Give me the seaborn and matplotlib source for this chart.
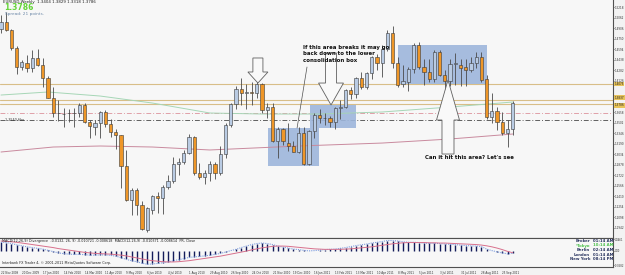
import matplotlib
matplotlib.use("Agg")
import matplotlib.pyplot as plt
import matplotlib.transforms as mtransforms
from matplotlib.patches import Rectangle, Polygon
import numpy as np
import pandas as pd
import seaborn as sns

sns.set_theme(style="white")
plt.rcParams['font.family'] = ['DejaVu Sans']

# ---------------- data (EURUSD weekly, 22 Nov 2009 .. 9 Oct 2011) ----------------
opens = [1.4890, 1.4990, 1.4877, 1.4609, 1.4327, 1.4386, 1.4312, 1.4461, 1.4357, 1.4164,
         1.3867, 1.3644, 1.3636, 1.3640, 1.3646, 1.3644, 1.3763, 1.3510, 1.3436, 1.3496,
         1.3659, 1.3481, 1.3362, 1.3317, 1.2857, 1.2352, 1.2500, 1.2278, 1.1907, 1.2203,
         1.2411, 1.2382, 1.2545, 1.2634, 1.2887, 1.2916, 1.3050, 1.3288, 1.2753, 1.2694,
         1.2753, 1.2887, 1.2753, 1.3035, 1.3466, 1.3778, 1.4000, 1.3941, 1.3956, 1.3945,
         1.4075, 1.3689, 1.3733, 1.3228, 1.3406, 1.3198, 1.3154, 1.3065, 1.3347, 1.2887,
         1.3377, 1.3614, 1.3570, 1.3575, 1.3510, 1.3718, 1.3733, 1.3986, 1.3926, 1.4164,
         1.4030, 1.4238, 1.4476, 1.4386, 1.4594, 1.4832, 1.4386, 1.4075, 1.4104, 1.4297,
         1.4654, 1.4327, 1.4253, 1.4149, 1.4550, 1.4208, 1.4119, 1.4372, 1.4357, 1.4327,
         1.4283, 1.4386, 1.4476, 1.4149, 1.3585, 1.3674, 1.3510, 1.3347, 1.3404]
highs = [1.5100, 1.5144, 1.4895, 1.4640, 1.4431, 1.4510, 1.4580, 1.4594, 1.4460, 1.4200,
         1.4030, 1.3837, 1.3718, 1.3700, 1.3718, 1.3793, 1.3793, 1.3540, 1.3540, 1.3674,
         1.3690, 1.3560, 1.3400, 1.3320, 1.3095, 1.2530, 1.2530, 1.2340, 1.2250, 1.2430,
         1.2471, 1.2570, 1.2720, 1.2991, 1.2976, 1.3100, 1.3330, 1.3300, 1.2902, 1.2800,
         1.2930, 1.2920, 1.3160, 1.3500, 1.3800, 1.4045, 1.4160, 1.4080, 1.4100, 1.4250,
         1.4090, 1.3790, 1.3790, 1.3436, 1.3420, 1.3496, 1.3230, 1.3430, 1.3440, 1.3390,
         1.3650, 1.3700, 1.3640, 1.3600, 1.3733, 1.3840, 1.4000, 1.4030, 1.4180, 1.4250,
         1.4250, 1.4490, 1.4520, 1.4650, 1.4880, 1.4940, 1.4470, 1.4350, 1.4320, 1.4680,
         1.4700, 1.4450, 1.4450, 1.4580, 1.4580, 1.4280, 1.4440, 1.4535, 1.4450, 1.4450,
         1.4480, 1.4550, 1.4550, 1.4210, 1.3941, 1.3733, 1.3660, 1.3540, 1.3829]
lows = [1.4830, 1.4860, 1.4580, 1.4220, 1.4283, 1.4260, 1.4260, 1.4340, 1.4030, 1.3860,
        1.3580, 1.3525, 1.3436, 1.3510, 1.3430, 1.3580, 1.3496, 1.3273, 1.3320, 1.3273,
        1.3440, 1.3290, 1.3110, 1.2530, 1.2340, 1.2129, 1.2129, 1.1910, 1.1877, 1.2150,
        1.2159, 1.2150, 1.2510, 1.2600, 1.2720, 1.2880, 1.3040, 1.2730, 1.2670, 1.2590,
        1.2640, 1.2660, 1.2730, 1.2970, 1.3430, 1.3700, 1.3763, 1.3700, 1.3760, 1.3860,
        1.3644, 1.3570, 1.3220, 1.2976, 1.3170, 1.3080, 1.3060, 1.3050, 1.2870, 1.2870,
        1.3280, 1.3500, 1.3460, 1.3430, 1.3400, 1.3560, 1.3720, 1.3850, 1.3860, 1.4000,
        1.4000, 1.4150, 1.4290, 1.4179, 1.4560, 1.4310, 1.4030, 1.4030, 1.3971, 1.4240,
        1.4300, 1.4060, 1.4100, 1.4110, 1.4200, 1.3840, 1.4040, 1.4060, 1.4050, 1.4050,
        1.4260, 1.4310, 1.4110, 1.3560, 1.3496, 1.3391, 1.3320, 1.3139, 1.3318]
closes = [1.4990, 1.4877, 1.4609, 1.4327, 1.4401, 1.4312, 1.4461, 1.4357, 1.4164, 1.3867,
          1.3644, 1.3638, 1.3629, 1.3646, 1.3640, 1.3763, 1.3510, 1.3451, 1.3496, 1.3659,
          1.3481, 1.3362, 1.3317, 1.2857, 1.2352, 1.2500, 1.2278, 1.1921, 1.2233, 1.2411,
          1.2382, 1.2545, 1.2634, 1.2887, 1.2916, 1.3050, 1.3288, 1.2753, 1.2694, 1.2753,
          1.2887, 1.2753, 1.3035, 1.3466, 1.3778, 1.4000, 1.3941, 1.3956, 1.3945, 1.4075,
          1.3689, 1.3733, 1.3228, 1.3406, 1.3228, 1.3154, 1.3065, 1.3347, 1.2887, 1.3377,
          1.3614, 1.3570, 1.3575, 1.3510, 1.3718, 1.3733, 1.3986, 1.3926, 1.4164, 1.4030,
          1.4238, 1.4476, 1.4386, 1.4594, 1.4832, 1.4386, 1.4060, 1.4119, 1.4297, 1.4654,
          1.4327, 1.4253, 1.4149, 1.4550, 1.4208, 1.4119, 1.4372, 1.4380, 1.4312, 1.4283,
          1.4386, 1.4476, 1.4134, 1.3585, 1.3674, 1.3510, 1.3347, 1.3406, 1.3786]

# moving averages read at a few bars
ma_green_bars = [0, 9, 19, 29, 40, 50, 61, 73, 86, 98]
ma_green_vals = [1.3911, 1.3956, 1.3896, 1.3792, 1.3644, 1.3629, 1.3629, 1.3659, 1.3733, 1.3807]
ma_red_bars = [0, 10, 19, 29, 40, 57, 73, 86, 98]
ma_red_vals = [1.3065, 1.3139, 1.3154, 1.3139, 1.3095, 1.3154, 1.3198, 1.3258, 1.3332]

# MACD (x 0.001)
macd_main = [33, 32, 28, 23, 19, 15, 12, 9, 6,
             1, -4, -9, -12, -14, -15, -15, -16,
             -18, -18, -17, -17, -19, -22, -28, -35,
             -40, -44, -50, -54, -53, -51, -48, -45,
             -40, -36, -32, -27, -25, -23, -21, -18,
             -15, -11, -6, 0, 5, 12, 18, 24,
             28, 30, 28, 24, 18, 14, 10, 6,
             4, 1, -1, 0, 2, 4, 5, 6,
             9, 12, 16, 20, 23, 26, 30, 33,
             36, 40, 40, 38, 35, 33, 33, 32,
             30, 29, 29, 28, 26, 25, 24, 22,
             20, 19, 18, 16, 6, 0, -5, -9,
             -13, -10.7]
macd_signal = [38, 37, 35, 33, 30, 27, 24, 21, 18,
               15, 12, 8, 5, 2, -1, -4, -7,
               -9, -11, -12, -13, -14, -16, -18, -21,
               -25, -29, -33, -37, -40, -42, -44, -45,
               -45, -44, -42, -40, -37, -34, -31, -28,
               -25, -22, -18, -14, -10, -6, -2, 3,
               7, 11, 14, 17, 18, 18, 17, 15,
               13, 11, 9, 7, 6, 5, 5, 5,
               5, 6, 7, 9, 11, 13, 15, 18,
               21, 24, 27, 29, 31, 32, 32, 32,
               32, 31, 31, 30, 30, 29, 28, 27,
               26, 25, 24, 22, 19, 15, 10, 4,
               -3, -8.6]

date_labels = ["22 Nov 2009", "20 Dec 2009", "17 Jan 2010", "14 Feb 2010", "14 Mar 2010",
               "11 Apr 2010", "9 May 2010", "6 Jun 2010", "4 Jul 2010", "1 Aug 2010",
               "29 Aug 2010", "26 Sep 2010", "24 Oct 2010", "21 Nov 2010", "19 Dec 2010",
               "16 Jan 2011", "13 Feb 2011", "13 Mar 2011", "10 Apr 2011", "8 May 2011",
               "5 Jun 2011", "3 Jul 2011", "31 Jul 2011", "28 Aug 2011", "25 Sep 2011"]
price_ticks = [1.5218, 1.5062, 1.4906, 1.4750, 1.4594, 1.4438, 1.4282, 1.4126,
               1.3658, 1.3502, 1.3346, 1.3190, 1.3034, 1.2878, 1.2722, 1.2566,
               1.2410, 1.2254, 1.2098, 1.1942]
price_tick_labels = ["%.4f" % v for v in price_ticks]
macd_ticks = [0.046, 0.0, -0.058]
macd_tick_labels = ["0.0461", "0.00", "-0.0582"]

levels_tan = [1.4075, 1.3837, 1.3778]
level_pink = 1.3644
level_grey = 1.3540

# ---------------- figure ----------------
W, H = 625, 275
fig = plt.figure(figsize=(W / 100, H / 100), dpi=100, facecolor="#F3F3F3")
ax = fig.add_axes([0, 1 - 238 / H, 613 / W, 238 / H])
axm = fig.add_axes([0, 1 - 267 / H, 613 / W, 29 / H])
for a in (ax, axm):
    a.set_facecolor("#F7F7F7")
    for s in ("left", "top"):
        a.spines[s].set_visible(False)
    for s in ("right", "bottom"):
        a.spines[s].set_color("#505050")
        a.spines[s].set_linewidth(0.8)
axm.spines["top"].set_visible(True)
axm.spines["top"].set_color("#505050")
axm.spines["top"].set_linewidth(0.8)

df = pd.DataFrame({"bar": np.arange(len(opens)), "open": opens, "high": highs,
                   "low": lows, "close": closes})
df["up"] = df["close"] >= df["open"]

# horizontal levels
for lv in levels_tan:
    ax.axhline(lv, color="#D8BE88", lw=0.8, zorder=1)
ax.axhline(level_pink, color="#E0A0A8", lw=0.7, ls=(0, (5, 2, 1, 2)), zorder=1)
ax.axhline(level_grey, color="#606060", lw=0.7, ls=(0, (5, 2, 1, 2)), zorder=1)
ax.text(0.8, level_grey, "1.3540 fibo", fontsize=2.4, color="#303030", va="center", zorder=6)

# consolidation boxes
box_color = "#9DB6DC"
for (x0, x1, y0, y1) in [(51.15, 60.9, 1.2857, 1.3421),
                         (59.2, 68.0, 1.3421, 1.3763),
                         (76.05, 93.1, 1.4075, 1.4654)]:
    ax.add_patch(Rectangle((x0, y0), x1 - x0, y1 - y0, facecolor=box_color,
                           edgecolor="none", alpha=0.9, zorder=1.5))

# moving averages
sns.lineplot(x=ma_green_bars, y=ma_green_vals, ax=ax, color="#A6D6B6", lw=0.7, zorder=2)
sns.lineplot(x=ma_red_bars, y=ma_red_vals, ax=ax, color="#C98A9E", lw=0.7, zorder=2)

# candles
ax.vlines(df["bar"], df["low"], df["high"], color="#4A4A4A", lw=0.6, zorder=3)
body_bottom = np.minimum(df["open"], df["close"])
body_h = np.maximum((df["close"] - df["open"]).abs(), 0.0004)
colors = np.where(df["up"], "#B9CBE3", "#EE9628")
ax.bar(df["bar"], body_h, bottom=body_bottom, width=0.62, color=colors,
       edgecolor="#3A3A3A", linewidth=0.4, zorder=4)


def arrow(cx, tip, base, end, hh, hs):
    pts = [(cx - hs, end), (cx + hs, end), (cx + hs, base), (cx + hh, base),
           (cx, tip), (cx - hh, base), (cx - hs, base)]
    ax.add_patch(Polygon(pts, closed=True, facecolor="#F9F9F9", edgecolor="#606060",
                         lw=0.6, zorder=5))


arrow(49.2, 1.4089, 1.4253, 1.4461, 1.92, 0.96)
arrow(63.2, 1.3763, 1.4089, 1.4535, 2.39, 1.05)
arrow(85.6, 1.4134, 1.3540, 1.3035, 2.2, 1.15)

ax.text(57.9, 1.4660, "If this area breaks it may go\nback down to the lower\nconsolidation box",
        fontsize=3.9, fontweight="bold", color="#111111", va="top", ha="left",
        linespacing=1.45, zorder=7)
ax.plot([58.6, 56.7], [1.4327, 1.3421], color="#505050", lw=0.5, zorder=6)
ax.text(81.2, 1.2976, "Can it hit this area? Let's see", fontsize=3.9, fontweight="bold",
        color="#111111", va="center", ha="left", zorder=7)

# right price axis
ax.yaxis.tick_right()
ax.set_yticks(price_ticks)
ax.set_yticklabels(price_tick_labels)
ax.tick_params(axis="y", labelsize=2.0, length=1.0, width=0.5, pad=0.3, colors="#303030")
ax.set_xticks([])
ax.set_xlabel("")
ax.set_ylabel("")
bl = mtransforms.blended_transform_factory(ax.transAxes, ax.transData)
for val, txt in [(1.4075, "1.4075"), (1.3873, "1.3837"), (1.3760, "1.3786")]:
    ax.text(1.0025, val, txt, transform=bl, fontsize=2.0, va="center", ha="left",
            color="#202020", clip_on=False,
            bbox=dict(facecolor="#E7C35A", edgecolor="none", pad=0.3), zorder=8)
ax.set_xlim(-0.19, 117.2)
ax.set_ylim(1.1788, 1.5322)

# MACD panel
mdf = pd.DataFrame({"bar": np.arange(len(macd_main)),
                    "main": np.array(macd_main) * 0.001,
                    "signal": np.array(macd_signal) * 0.001})
axm.vlines(mdf["bar"], 0, mdf["main"], color="#141C5A", lw=1.0, zorder=3)
sns.lineplot(data=mdf, x="bar", y="main", ax=axm, color="#7E9EE0", lw=0.8,
             linestyle=(0, (1, 1)), zorder=4)
sns.lineplot(data=mdf, x="bar", y="signal", ax=axm, color="#D8708C", lw=0.7, zorder=4)
axm.yaxis.tick_right()
axm.set_yticks(macd_ticks)
axm.set_yticklabels(macd_tick_labels)
axm.tick_params(axis="y", labelsize=1.8, length=1.0, width=0.5, pad=0.3, colors="#303030")
axm.set_xticks(np.arange(len(date_labels)) * 4)
axm.set_xticklabels(date_labels, ha="left")
axm.tick_params(axis="x", labelsize=2.0, length=2, width=0.5, pad=0.8, colors="#303030")
axm.set_xlabel("")
axm.set_ylabel("")
axm.set_xlim(-0.19, 117.2)
axm.set_ylim(-0.065, 0.050)

axm.text(0.003, 0.97, "MACD(12,26,9) Divergence  -0.0132, 26, 9) -0.010721 -0.008618  "
         "MACD(12,26,9) -0.010371 -0.008614  PR, Close",
         transform=axm.transAxes, fontsize=2.4, va="top", ha="left", color="#202020",
         zorder=6)
axm.text(0.003, 0.06, "Interbank FX Trader 4, \u00a9 2001-2011 MetaQuotes Software Corp.",
         transform=axm.transAxes, fontsize=2.4, va="bottom", ha="left", color="#202020",
         zorder=6)

# header texts
fig.text(3 / W, 1 - 2.5 / H, "EURUSD,Weekly  1.3404 1.3829 1.3318 1.3786", fontsize=2.8,
         va="center", ha="left", color="#202020")
fig.text(4 / W, 1 - 8 / H, "1.3786", fontsize=5.5, fontweight="bold", va="center",
         ha="left", color="#66D43A")
fig.text(5 / W, 1 - 14 / H, "Spread: 21 points.", fontsize=3.1, va="center", ha="left",
         color="#6C88A8")

# clocks
clock = [("Broker", "01:14 AM", "#2A3560"), ("*Tokyo", "10:14 AM", "#4CC04C"),
         ("Berlin", "02:14 AM", "#2A3560"), ("London", "01:14 AM", "#2A3560"),
         ("New York", "08:14 PM", "#2A3560")]
for k, (name, tm, col) in enumerate(clock):
    yy = 1 - (241 + 4.5 * k) / H
    fig.text(590 / W, yy, name, fontsize=2.8, fontweight="bold", ha="right", va="center",
             color=col)
    fig.text(593 / W, yy, tm, fontsize=2.8, fontweight="bold", ha="left", va="center",
             color=col)

fig.savefig("out.png", dpi=100, facecolor=fig.get_facecolor())
